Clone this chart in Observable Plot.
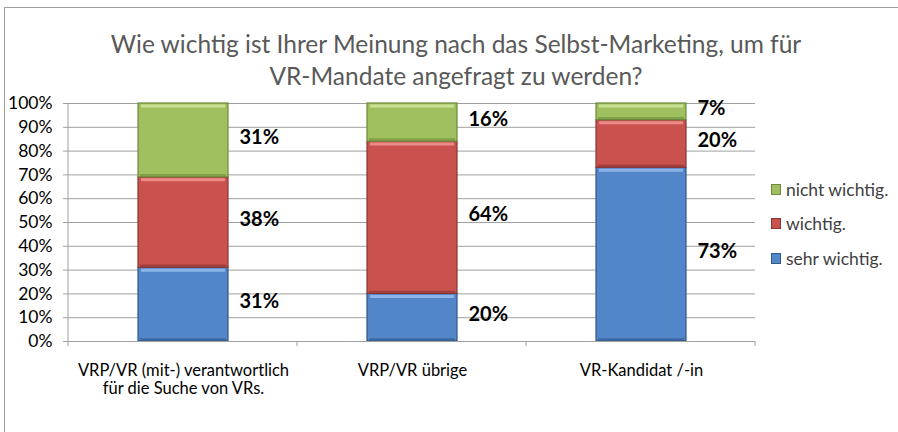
<!DOCTYPE html>
<html><head><meta charset="utf-8">
<script src="https://cdn.jsdelivr.net/npm/d3@7"></script>
<script src="https://cdn.jsdelivr.net/npm/@observablehq/plot@0.6"></script>
<style>
body{margin:0;background:#fff;}
#wrap{position:relative;width:898px;height:432px;overflow:hidden;font-family:Lato,sans-serif;background:#fff;}
#border{position:absolute;left:4px;top:7px;width:1000px;height:1000px;border-left:1.5px solid #a0a0a0;border-top:1.5px solid #a0a0a0;box-sizing:border-box;}
#title{position:absolute;left:0;top:28px;width:912px;text-align:center;color:#595959;font-size:24.5px;line-height:32px;}
#chart{position:absolute;left:0;top:0;}
#legend{position:absolute;left:771px;top:172px;font-size:17.5px;color:#404040;}
.li{display:flex;align-items:center;height:34.5px;}
.sw{width:10px;height:11px;margin-right:5px;box-sizing:border-box;}
</style></head>
<body>
<div id="wrap">
<div id="border"></div>
<div id="chart"></div>
<div id="title">Wie wichtig ist Ihrer Meinung nach das Selbst-Marketing, um für<br>VR-Mandate angefragt zu werden?</div>
<div id="legend"></div>
</div>
<script>
const categories = ["VRP/VR (mit-) verantwortlich\nfür die Suche von VRs.", "VRP/VR übrige", "VR-Kandidat /-in"];
const seriesNames = ["sehr wichtig.", "wichtig.", "nicht wichtig."];
const sehrWichtig = [31, 20, 73];
const wichtig = [38, 64, 20];
const nichtWichtig = [31, 16, 7];
const yTicks = [0, 10, 20, 30, 40, 50, 60, 70, 80, 90, 100];

const baseColors = {"sehr wichtig.": "#5386c8", "wichtig.": "#c9524f", "nicht wichtig.": "#a0c060"};
const darkColors = {"sehr wichtig.": "#2f5788", "wichtig.": "#8a3533", "nicht wichtig.": "#6b8a3a"};
const lightColors = {"sehr wichtig.": "#8db4e8", "wichtig.": "#ec8c89", "nicht wichtig.": "#c9e295"};

const seriesValues = [sehrWichtig, wichtig, nichtWichtig];
const rows = [];
categories.forEach((c, i) => {
  let base = 0;
  seriesNames.forEach((s, j) => {
    const v = seriesValues[j][i];
    rows.push({cat: c, series: s, value: v, y1: base / 100, y2: (base + v) / 100, mid: (base + v / 2) / 100});
    base += v;
  });
});

const fontFam = "Lato, sans-serif";
const plot = Plot.plot({
  width: 898,
  height: 432,
  marginLeft: 68,
  marginRight: 143,
  marginTop: 103,
  marginBottom: 91,
  style: {fontFamily: fontFam, background: "transparent", overflow: "visible"},
  x: {domain: categories, paddingInner: 0.607, paddingOuter: 0.3035},
  y: {domain: [0, 1]},
  color: {type: "identity"},
  marks: [
    Plot.gridY(yTicks.map(t => t / 100), {stroke: "#a0a0a0", strokeOpacity: 1, strokeWidth: 1}),
    Plot.axisY(yTicks.map(t => t / 100), {tickSize: 5, tickPadding: 11, stroke: "#a0a0a0", fill: "#000", fontSize: 17.5, tickFormat: d => Math.round(d * 100) + "%"}),
    Plot.axisX({tickSize: 0, tickPadding: 21, fontSize: 16.5, fill: "#000", lineHeight: 1.12, label: null}),
    Plot.barY(rows, {x: "cat", y1: "y1", y2: "y2", fill: d => baseColors[d.series], stroke: d => darkColors[d.series], strokeWidth: 1.2}),
    Plot.tickY(rows, {x: "cat", y: "y2", dy: 2.5, stroke: d => lightColors[d.series], strokeWidth: 3, insetLeft: 3, insetRight: 3}),
    Plot.tickY(rows, {x: "cat", y: "y1", dy: -2, stroke: d => darkColors[d.series], strokeWidth: 2.5, strokeOpacity: 0.6, insetLeft: 2, insetRight: 2}),
    Plot.text(rows, {x: "cat", y: "mid", text: d => d.value + "%", dx: 56, dy: -3, textAnchor: "start", fontWeight: "bold", fontSize: 20, fill: "#000"}),
    Plot.ruleY([0], {stroke: "#a0a0a0", strokeWidth: 1})
  ]
});
document.getElementById("chart").appendChild(plot);

// left axis line and category boundary tick marks
const xs = plot.scale("x"), ys = plot.scale("y");
const svg = d3.select(plot);
const y0 = ys.range[0], y1 = ys.range[1];
const left = xs.range[0];
svg.append("line").attr("x1", left).attr("x2", left).attr("y1", y1).attr("y2", y0 + 5).attr("stroke", "#a0a0a0");
categories.forEach((c, i) => {
  const xb = left + xs.step * (i + 1);
  svg.append("line").attr("x1", xb).attr("x2", xb).attr("y1", y0).attr("y2", y0 + 5).attr("stroke", "#a0a0a0");
});

const legend = document.getElementById("legend");
seriesNames.slice().reverse().forEach(s => {
  const div = document.createElement("div");
  div.className = "li";
  div.innerHTML = `<span class="sw" style="background:${baseColors[s]};border:1px solid ${darkColors[s]}"></span><span>${s}</span>`;
  legend.appendChild(div);
});
</script>
</body></html>
